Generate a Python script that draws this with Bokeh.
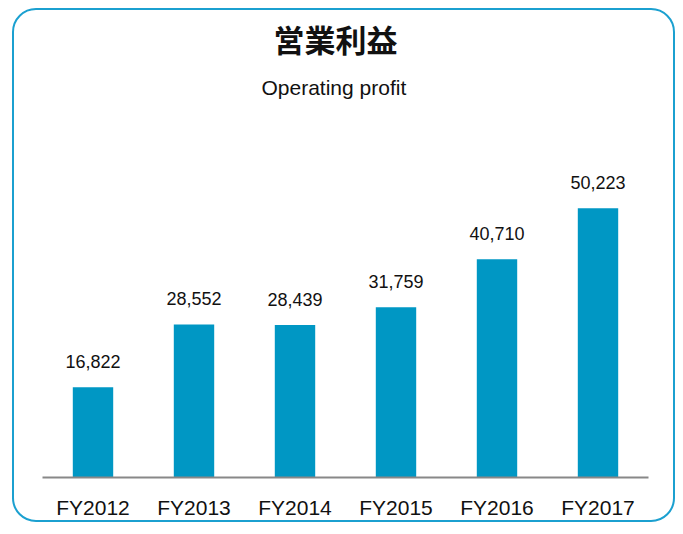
from bokeh.plotting import figure
from bokeh.models import FactorRange, Range1d, Title, ColumnDataSource
from bokeh.embed import file_html
from bokeh.resources import INLINE
from bokeh.core.properties import value

# ---- data ----
years = ["FY2012", "FY2013", "FY2014", "FY2015", "FY2016", "FY2017"]
profit = [16822, 28552, 28439, 31759, 40710, 50223]
profit_labels = ["16,822", "28,552", "28,439", "31,759", "40,710", "50,223"]
title_text = "営業利益"
subtitle_text = "Operating profit"

BAR = "#0097c4"
FRAME = "#1ba0d0"
TXT = "#111111"

src = ColumnDataSource(dict(year=years, profit=profit, label=profit_labels))

p = figure(width=663, height=514,
           x_range=FactorRange(*years, range_padding=0),
           y_range=Range1d(0, 68070),
           output_backend="svg", toolbar_location=None,
           y_axis_location=None, title=None,
           min_border_left=28, min_border_right=29,
           min_border_bottom=47, min_border_top=102,
           background_fill_color=None, border_fill_color=None,
           outline_line_color=None)

p.styles = {"border": f"2px solid {FRAME}", "border-radius": "24px",
            "margin": "8px 0 0 12px"}

p.vbar(x="year", top="profit", width=0.4, source=src,
       fill_color=BAR, line_color=None)
p.text(x="year", y="profit", text="label", source=src,
       text_align="center", text_baseline="alphabetic", y_offset=-26,
       text_font=value("Liberation Sans"), text_font_size="18px",
       text_color=TXT)

p.xgrid.visible = False
p.ygrid.visible = False
ax = p.xaxis[0]
ax.axis_line_color = "#888888"
ax.axis_line_width = 2
ax.major_tick_line_color = None
ax.minor_tick_line_color = None
ax.major_tick_out = 0
ax.major_tick_in = 0
ax.major_label_text_font = "Liberation Sans"
ax.major_label_text_font_size = "21px"
ax.major_label_text_color = TXT
ax.major_label_standoff = 18

sub = Title(text=subtitle_text, align="left", offset=219,
            text_font="Liberation Sans",
            text_font_size="21px", text_font_style="normal", text_color=TXT,
            standoff=27)
main = Title(text=title_text, align="left", offset=231,
             text_font="Noto Sans CJK JP",
             text_font_size="31px", text_font_style="bold", text_color=TXT,
             standoff=0)
p.add_layout(sub, "above")
p.add_layout(main, "above")

open("out.html", "w").write(file_html(p, INLINE))
